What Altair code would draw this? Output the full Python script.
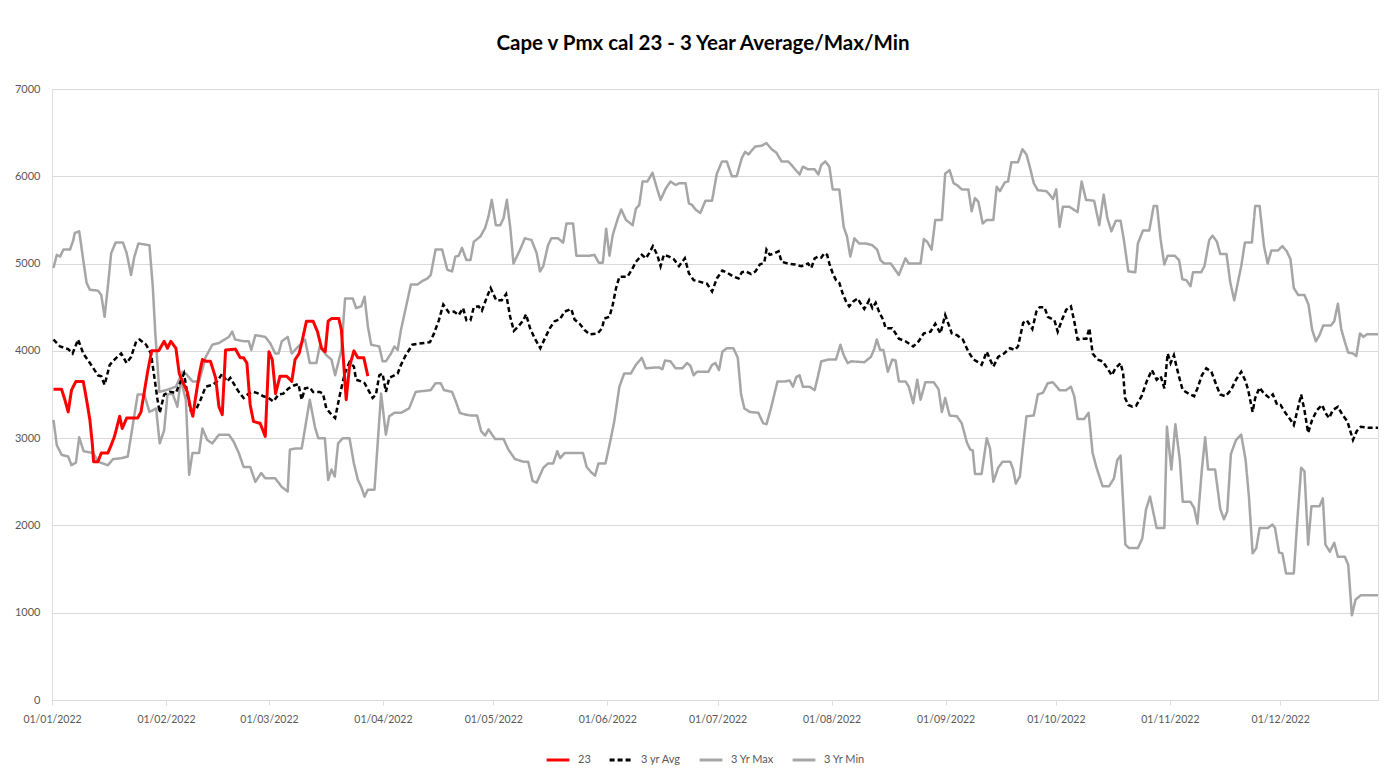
import altair as alt
import pandas as pd

TITLE = "Cape v Pmx cal 23 - 3 Year Average/Max/Min"
START = "2022-01-01"
END_DAY = 360.6
MONTH_TICKS = ["2022-01-01", "2022-02-01", "2022-03-01", "2022-04-01", "2022-05-01", "2022-06-01",
               "2022-07-01", "2022-08-01", "2022-09-01", "2022-10-01", "2022-11-01", "2022-12-01"]
SERIES = ["23", "3 yr Avg", "3 Yr Max", "3 Yr Min"]
COLORS = ["#FF0000", "#000000", "#A6A6A6", "#A6A6A6"]
DASHES = [[1, 0], [5, 3], [1, 0], [1, 0]]
Y_TICKS = [0, 1000, 2000, 3000, 4000, 5000, 6000, 7000]

# days after 1 Jan 2022, values
RED_DAY = [0.4, 2.6, 3.5, 4.4, 5.3, 6.5, 8.5, 9.4, 10.3, 11.0, 11.3, 12.5, 13.4, 15.2, 16.1, 17.0, 18.4, 19.1,
           20.3, 23.3, 24.2, 25.1, 26.0, 27.1, 29.0, 30.5, 31.4, 32.3, 33.7, 34.6, 35.5, 36.8, 37.7, 38.3,
           39.1, 40.0, 40.9, 41.8, 43.1, 44.5, 45.4, 46.3, 47.2, 49.9, 51.2, 52.1, 53.0, 53.9, 54.8, 56.6,
           58.0, 59.0, 59.9, 60.8, 62.0, 63.8, 65.2, 66.1, 67.2, 68.0, 69.2, 71.0, 72.2, 73.3, 74.3, 75.1,
           76.0, 78.0, 78.7, 80.0, 80.9, 82.1, 83.2, 84.8, 85.9]
RED_VAL = [3560, 3560, 3440, 3300, 3550, 3650, 3650, 3440, 3210, 2920, 2730, 2730, 2830, 2830, 2920, 3020, 3250, 3110,
           3230, 3230, 3300, 3530, 3760, 4000, 4000, 4110, 4030, 4110, 4030, 3740, 3650, 3530, 3340, 3250,
           3480, 3720, 3900, 3880, 3880, 3690, 3360, 3270, 4010, 4020, 3920, 3920, 3860, 3380, 3190, 3170,
           3020, 3990, 3900, 3510, 3710, 3710, 3650, 3900, 3970, 4110, 4340, 4340, 4220, 4030, 3990, 4340,
           4370, 4370, 4240, 3440, 3820, 4000, 3920, 3920, 3710]

AVG_DAY = [0.4, 2.2, 4.4, 5.6, 7.1, 8.5, 10.3, 12.5, 13.4, 14.3, 15.7, 17.0, 18.8, 20.3, 21.5, 22.9, 23.8, 25.6,
           26.9, 27.8, 28.7, 29.3, 30.5, 32.0, 33.7, 35.0, 35.9, 36.8, 37.7, 39.1, 40.4, 41.8, 43.6, 44.9,
           46.3, 47.6, 48.5, 49.9, 50.8, 52.1, 53.5, 54.8, 56.2, 57.5, 58.9, 60.2, 61.6, 62.9, 64.3, 65.6,
           67.0, 67.9, 68.8, 70.1, 71.0, 72.8, 73.7, 74.6, 76.0, 77.0, 78.2, 79.6, 80.9, 82.1, 82.7, 84.1,
           85.0, 86.3, 87.2, 88.1, 89.0, 89.9, 90.8, 91.7, 93.1, 94.0, 94.9, 96.2, 98.0, 99.4, 102.8, 103.9,
           105.2, 106.4, 107.9, 109.3, 110.6, 111.8, 112.7, 113.8, 114.7, 116.0, 116.9, 118.3, 119.3, 120.8,
           122.3, 123.5, 124.6, 125.6, 126.8, 128.2, 128.9, 130.0, 131.3, 132.8, 134.0, 135.4, 136.7, 138.1,
           139.4, 141.2, 142.1, 143.5, 144.8, 146.2, 148.4, 149.6, 150.2, 151.6, 152.5, 153.4, 154.3, 156.5,
           157.7, 158.8, 160.4, 161.5, 162.4, 163.4, 164.6, 165.5, 166.4, 167.8, 169.1, 170.5, 172.1, 173.2,
           174.5, 176.3, 178.1, 179.5, 180.8, 182.3, 183.8, 185.3, 186.7, 187.6, 188.7, 190.1, 191.3, 192.5,
           193.7, 194.3, 195.2, 196.6, 197.6, 198.4, 200.2, 202.0, 203.8, 205.6, 206.5, 207.4, 208.3, 209.2,
           210.1, 210.8, 211.4, 212.3, 213.2, 214.1, 215.0, 215.9, 216.8, 218.0, 219.1, 219.8, 220.9, 221.6,
           222.2, 223.1, 224.0, 224.9, 226.1, 226.7, 228.5, 230.3, 232.1, 234.2, 235.7, 237.1, 238.9, 240.2,
           241.6, 242.9, 244.7, 246.1, 247.7, 249.2, 250.6, 251.9, 252.8, 254.2, 255.1, 256.0, 257.3, 258.9,
           260.5, 261.8, 262.7, 264.1, 265.1, 266.6, 267.7, 268.6, 269.9, 270.8, 272.6, 273.5, 274.6, 275.8,
           277.1, 278.0, 278.9, 280.3, 281.3, 282.1, 283.0, 284.3, 285.7, 287.0, 288.2, 289.2, 290.6, 291.3,
           291.8, 292.7, 293.8, 294.8, 296.3, 297.7, 299.1, 300.4, 301.5, 302.5, 303.4, 304.2, 305.1, 305.8,
           306.7, 307.5, 309.1, 310.6, 311.5, 312.7, 313.9, 315.3, 316.8, 317.7, 319.1, 320.6, 322.0, 323.4,
           324.6, 325.3, 326.5, 327.2, 328.4, 329.6, 331.1, 332.0, 333.2, 334.1, 335.4, 336.8, 337.7, 338.7,
           339.7, 340.6, 341.6, 342.7, 344.0, 345.4, 346.3, 347.3, 348.3, 349.7, 350.9, 352.3, 353.0, 353.8,
           354.8, 355.9, 357.8, 360.6]
AVG_VAL = [4130, 4050, 4020, 3970, 4130, 3970, 3860, 3720, 3710, 3610, 3840, 3900, 3970, 3860, 3930, 4110, 4130, 4070,
           3970, 3710, 3440, 3290, 3500, 3530, 3520, 3650, 3740, 3510, 3320, 3320, 3440, 3590, 3610, 3650,
           3740, 3650, 3690, 3590, 3530, 3460, 3510, 3530, 3510, 3480, 3460, 3420, 3500, 3510, 3570, 3600,
           3620, 3440, 3570, 3580, 3530, 3530, 3510, 3340, 3270, 3230, 3480, 3740, 3870, 3820, 3670, 3650,
           3630, 3530, 3460, 3500, 3720, 3740, 3530, 3690, 3720, 3740, 3840, 3950, 4070, 4080, 4100, 4200,
           4350, 4530, 4440, 4450, 4410, 4490, 4350, 4350, 4500, 4510, 4460, 4620, 4720, 4580,
           4580, 4650, 4390, 4230, 4280, 4350, 4420, 4260, 4140, 4030, 4140, 4260, 4340, 4360,
           4450, 4480, 4360, 4310, 4240, 4190, 4200, 4260, 4370, 4390, 4530, 4720, 4850, 4850,
           4930, 5020, 5100, 5060, 5120, 5200, 5100, 4970, 5100, 5080, 5050, 4970, 5060, 4890,
           4810, 4790, 4770, 4680, 4830, 4920, 4890, 4850, 4830, 4900, 4910, 4880, 4910, 4990,
           5010, 5160, 5100, 5120, 5140, 5020, 5000, 4990, 4970, 5000, 4950, 5060, 5080, 5070,
           5120, 5100, 5000, 4890, 4810, 4780, 4660, 4570, 4510, 4570, 4600, 4550, 4480, 4530,
           4580, 4490, 4550, 4450, 4350, 4260, 4260, 4140, 4110, 4050, 4110, 4200, 4220, 4310,
           4200, 4410, 4200, 4180, 4130, 3990, 3900, 3870, 3840, 3990, 3900, 3820, 3930, 3970,
           4030, 4010, 4050, 4320, 4350, 4250, 4450, 4500, 4500, 4390, 4350, 4220, 4350, 4470,
           4510, 4340, 4130, 4140, 4140, 4260, 3970, 3900, 3880, 3800, 3720, 3800, 3860, 3740,
           3460, 3380, 3360, 3370, 3480, 3650, 3780, 3670, 3710, 3570, 3970, 3860, 3950, 3820,
           3670, 3550, 3510, 3480, 3570, 3720, 3800, 3760, 3590, 3500, 3480, 3550, 3670, 3760,
           3650, 3550, 3300, 3460, 3580, 3510, 3460, 3500, 3380, 3380, 3290, 3210, 3150, 3320,
           3500, 3320, 3060, 3210, 3320, 3380, 3290, 3230, 3320, 3360, 3270, 3190, 3090, 2980,
           3080, 3130, 3120, 3120]

MAX_DAY = [0.4, 1.3, 2.2, 3.1, 4.9, 5.8, 6.2, 7.4, 8.5, 9.4, 10.3, 12.5, 13.4, 14.3, 15.2, 16.1, 17.3, 19.3,
           20.3, 21.5, 22.4, 23.5, 26.5, 27.4, 28.1, 29.2, 31.0, 33.7, 35.5, 36.4, 38.2, 40.0, 41.8, 43.6,
           45.4, 48.1, 49.0, 49.8, 52.1, 53.5, 54.2, 55.3, 58.0, 59.3, 60.7, 61.6, 62.5, 64.1, 65.2, 67.0,
           68.8, 70.1, 71.9, 72.8, 74.6, 76.0, 77.0, 78.7, 79.7, 81.8, 82.7, 84.1, 85.0, 85.9, 86.8, 89.0,
           89.9, 90.8, 92.2, 93.1, 94.0, 94.9, 97.6, 99.4, 100.7, 102.1, 103.0, 104.3, 106.1, 107.5, 108.8,
           109.7, 110.6, 111.5, 112.7, 113.8, 114.7, 116.5, 117.8, 118.7, 119.6, 120.7, 121.9, 122.8, 123.7,
           124.6, 125.5, 127.3, 128.6, 130.4, 131.8, 132.7, 133.6, 134.9, 135.8, 137.6, 139.0, 139.9, 141.7,
           142.6, 146.2, 147.5, 148.7, 149.8, 150.7, 151.6, 152.5, 153.9, 154.8, 156.1, 157.9, 158.8, 159.7,
           160.6, 161.9, 163.3, 164.6, 165.5, 166.9, 168.2, 169.6, 170.5, 172.3, 173.2, 174.1, 175.0, 176.3,
           177.7, 179.5, 180.8, 182.2, 183.5, 184.9, 186.2, 187.6, 188.5, 189.4, 191.2, 193.0, 194.3, 195.7,
           197.0, 198.4, 200.2, 201.5, 203.3, 204.2, 205.6, 207.4, 208.4, 209.2, 210.3, 211.4, 212.3, 214.1,
           215.3, 216.2, 217.1, 218.2, 219.5, 221.3, 223.1, 224.4, 225.3, 226.3, 228.1, 230.3, 232.1, 233.0,
           236.2, 237.1, 238.0, 239.2, 240.2, 242.0, 242.9, 244.1, 245.2, 246.1, 247.4, 249.2, 250.1, 251.0,
           251.9, 253.1, 254.2, 256.0, 256.9, 257.8, 259.1, 260.0, 260.9, 262.7, 263.9, 265.0, 265.9, 267.0,
           268.1, 270.4, 271.3, 272.2, 273.1, 274.0, 274.9, 276.7, 278.9, 280.0, 281.2, 283.4, 284.8, 286.0,
           287.0, 288.1, 289.3, 290.6, 291.5, 292.7, 294.6, 295.3, 296.7, 298.4, 299.6, 300.5, 301.5, 302.5,
           303.4, 305.3, 306.5, 307.4, 308.5, 309.6, 310.3, 312.5, 313.4, 314.7, 315.6, 316.8, 317.7, 319.4,
           320.4, 321.5, 323.4, 324.4, 326.3, 327.2, 328.4, 329.6, 330.6, 331.6, 333.4, 334.6, 335.8, 336.8,
           337.7, 338.9, 340.6, 341.7, 342.7, 343.7, 344.7, 345.7, 347.8, 348.7, 349.7, 350.6, 351.6, 352.5,
           353.8, 354.7, 355.7, 356.6, 357.6, 360.6]
MAX_VAL = [4950, 5100, 5080, 5160, 5160, 5270, 5350, 5370, 5040, 4780, 4700, 4690, 4640, 4390, 4740, 5120, 5240, 5240,
           5120, 4870, 5080, 5230, 5210, 4740, 4200, 3530, 3550, 3590, 3760, 3740, 3650, 3650, 3930, 4070,
           4090, 4160, 4220, 4130, 4110, 4110, 4010, 4180, 4160, 4090, 3970, 3970, 4110, 4160, 3970, 4050,
           4130, 3860, 3860, 4050, 3950, 3900, 3720, 4010, 4600, 4600, 4490, 4510, 4620, 4280, 4070, 4050,
           3880, 3880, 3970, 4050, 4010, 4240, 4760, 4760, 4800, 4830, 4870, 5160, 5160, 4930, 4910,
           5080, 5090, 5180, 5040, 5040, 5250, 5310, 5410, 5540, 5730, 5440, 5440, 5520, 5730,
           5420, 5000, 5160, 5290, 5270, 5120, 4910, 4970, 5210, 5290, 5290, 5240, 5460, 5460,
           5090, 5090, 5100, 5010, 5010, 5400, 5090, 5330, 5520, 5620, 5500, 5440, 5630, 5670,
           5940, 5940, 6040, 5850, 5730, 5860, 5940, 5900, 5920, 5920, 5690, 5670, 5620, 5580,
           5720, 5720, 6030, 6170, 6170, 6000, 6000, 6210, 6280, 6250, 6340, 6350, 6380, 6310,
           6270, 6170, 6170, 6110, 6020, 6110, 6080, 6080, 6020, 6130, 6170, 6110, 5850, 5850,
           5420, 5310, 5080, 5290, 5230, 5230, 5210, 5160, 5040, 5000, 5000, 4870, 5060, 5000,
           5000, 5280, 5250, 5160, 5500, 5500, 6030, 6070, 5920, 5900, 5850, 5850, 5600, 5750,
           5710, 5460, 5500, 5500, 5880, 5830, 5930, 5940, 6160, 6160, 6310, 6250, 6110, 5920,
           5840, 5830, 5790, 5740, 5850, 5420, 5650, 5650, 5590, 5940, 5730, 5720, 5440, 5790,
           5520, 5370, 5490, 5490, 5270, 4910, 4900, 5230, 5380, 5380, 5660, 5660, 5270, 4990,
           5090, 5090, 5040, 4820, 4810, 4740, 4900, 4900, 4970, 5270, 5320, 5250, 5110, 5110,
           4790, 4580, 4970, 5240, 5240, 5660, 5660, 5200, 5000, 5150, 5150, 5200, 5140, 5050,
           4720, 4640, 4640, 4530, 4240, 4110, 4180, 4290, 4290, 4340, 4540, 4250, 4100, 3980,
           3970, 3940, 4200, 4160, 4190, 4190]

MIN_DAY = [0.4, 1.3, 2.6, 4.4, 5.3, 6.5, 7.4, 8.6, 11.2, 12.5, 15.2, 16.6, 18.8, 20.6, 23.3, 25.1, 26.5, 28.3,
           29.3, 30.5, 31.4, 32.8, 34.1, 35.0, 36.4, 37.3, 38.2, 40.0, 40.9, 42.2, 43.6, 45.4, 48.1, 49.4,
           50.8, 52.1, 53.9, 55.3, 56.9, 58.0, 60.7, 62.5, 64.1, 64.7, 66.1, 67.9, 70.1, 71.5, 72.4, 74.2,
           75.1, 76.0, 76.9, 77.8, 79.1, 80.9, 82.1, 83.2, 84.1, 85.0, 85.9, 87.7, 89.5, 90.8, 91.7, 93.1,
           94.9, 97.1, 98.9, 103.0, 104.3, 105.7, 106.6, 108.8, 110.0, 110.9, 112.4, 113.8, 115.6, 116.7,
           117.8, 118.7, 120.5, 122.8, 124.1, 125.9, 128.2, 129.5, 130.7, 131.8, 133.6, 134.9, 136.3, 137.4,
           138.2, 139.4, 141.2, 144.4, 145.4, 146.6, 147.7, 148.6, 150.5, 151.6, 152.9, 154.3, 155.6, 157.4,
           158.8, 160.4, 161.5, 164.2, 165.1, 166.0, 166.7, 168.2, 169.6, 171.4, 172.7, 173.6, 174.5, 175.4,
           178.5, 179.5, 180.4, 181.4, 182.3, 183.5, 185.3, 186.5, 187.4, 188.3, 189.8, 192.1, 193.4, 194.3,
           195.5, 197.3, 199.3, 200.6, 201.5, 202.4, 203.3, 204.2, 206.0, 207.4, 208.3, 209.2, 211.0, 213.2,
           214.4, 215.3, 216.4, 217.3, 220.9, 222.7, 223.6, 224.3, 225.2, 226.1, 227.3, 228.5, 229.4, 230.3,
           232.1, 233.0, 234.2, 235.3, 236.2, 237.5, 239.8, 241.1, 242.0, 242.9, 244.1, 246.1, 247.4, 248.8,
           249.7, 250.4, 251.0, 252.8, 254.2, 255.1, 256.0, 257.3, 258.5, 260.6, 261.4, 262.1, 263.2, 264.1,
           265.0, 267.0, 268.1, 269.5, 270.8, 272.2, 274.0, 275.8, 277.1, 278.0, 278.9, 280.7, 281.9, 283.0,
           284.0, 285.7, 287.5, 288.8, 289.7, 290.6, 291.9, 292.9, 295.3, 296.5, 297.5, 298.6, 300.4, 302.5,
           303.2, 304.4, 305.5, 306.7, 307.5, 309.6, 310.6, 311.5, 312.7, 313.6, 314.4, 316.3, 317.7, 318.7,
           319.6, 320.6, 322.0, 323.4, 324.6, 325.5, 326.5, 327.5, 328.4, 330.6, 331.9, 332.6, 333.7, 334.6,
           335.6, 337.7, 338.7, 339.7, 340.6, 341.6, 342.5, 344.7, 345.6, 346.3, 347.5, 348.7, 349.7, 351.6,
           352.5, 353.5, 354.5, 355.9, 360.6]
MIN_VAL = [3210, 2920, 2810, 2790, 2690, 2720, 3010, 2850, 2830, 2730, 2690, 2760, 2770, 2790, 3500, 3500, 3300, 3340,
           2940, 3090, 3500, 3510, 3360, 3670, 3440, 2580, 2830, 2830, 3110, 2980, 2940, 3040, 3040, 2960,
           2830, 2670, 2670, 2500, 2600, 2540, 2540, 2440, 2390, 2870, 2880, 2880, 3440, 3130, 3000, 3000,
           2520, 2640, 2560, 2940, 3000, 3000, 2710, 2520, 2440, 2330, 2410, 2410, 3510, 3040, 3250, 3290,
           3290, 3340, 3530, 3550, 3630, 3630, 3550, 3530, 3400, 3290, 3270, 3260, 3260, 3080,
           3030, 3100, 2990, 2990, 2870, 2760, 2730, 2730, 2510, 2490, 2660, 2710, 2710, 2850,
           2770, 2830, 2830, 2830, 2670, 2610, 2570, 2710, 2710, 2920, 3190, 3590, 3740, 3740,
           3840, 3920, 3800, 3810, 3810, 3790, 3890, 3880, 3800, 3800, 3860, 3830, 3720, 3760,
           3760, 3840, 3860, 3780, 3990, 4030, 4030, 3920, 3500, 3340, 3300, 3290, 3170, 3160,
           3340, 3650, 3650, 3660, 3590, 3700, 3720, 3590, 3590, 3550, 3710, 3880, 3900, 3900,
           4070, 3950, 3860, 3880, 3870, 3930, 4020, 4130, 4010, 4010, 3760, 3900, 3890, 3650,
           3650, 3590, 3400, 3670, 3440, 3640, 3640, 3560, 3300, 3460, 3260, 3250, 3170, 2950,
           2870, 2860, 2590, 2590, 3000, 2880, 2500, 2660, 2730, 2730, 2640, 2480, 2560, 2920,
           3250, 3260, 3500, 3520, 3630, 3640, 3550, 3550, 3590, 3480, 3220, 3220, 3290, 2830,
           2670, 2450, 2450, 2540, 2750, 2800, 1780, 1740, 1740, 1850, 2180, 2330, 1970, 1970,
           3130, 2640, 3160, 2750, 2270, 2270, 2200, 2020, 2640, 3010, 2640, 2640, 2190, 2070,
           2160, 2820, 2980, 3040, 2750, 2330, 1680, 1740, 1970, 1970, 2010, 1970, 1690, 1680,
           1450, 1450, 2080, 2660, 2620, 1780, 2220, 2220, 2310, 1780, 1700, 1800, 1640, 1640,
           1550, 970, 1150, 1200, 1200]

DAY_MS = 86400000
T0 = int(pd.Timestamp(START, tz="UTC").value // 10**6)


def ms(day):
    return T0 + int(round(day * DAY_MS))


rows = []
for name, days, vals in [("23", RED_DAY, RED_VAL), ("3 yr Avg", AVG_DAY, AVG_VAL),
                         ("3 Yr Max", MAX_DAY, MAX_VAL), ("3 Yr Min", MIN_DAY, MIN_VAL)]:
    for d, v in zip(days, vals):
        rows.append({"series": name, "t": ms(d), "value": v})
df = pd.DataFrame(rows)

tick_ms = [int(pd.Timestamp(s, tz="UTC").value // 10**6) for s in MONTH_TICKS]

FONT = "Lato"
LABEL_COLOR = "#595959"
GRID = "#D9D9D9"

x_enc = alt.X("t:T", title=None,
              scale=alt.Scale(type="utc", domain=[T0, ms(END_DAY)], nice=False),
              axis=alt.Axis(values=tick_ms, format="%d/%m/%Y", grid=False, domainColor=GRID,
                            tickColor=GRID, tickSize=5, labelPadding=9, labelColor=LABEL_COLOR,
                            labelFont=FONT, labelFontSize=10.5, labelFlush=False))
y_enc = alt.Y("value:Q", title=None,
              scale=alt.Scale(domain=[0, 7000], nice=False),
              axis=alt.Axis(values=Y_TICKS, format="d", grid=True, gridColor=GRID, domain=False,
                            ticks=False, labelPadding=12, labelColor=LABEL_COLOR, labelFont=FONT,
                            labelFontSize=11))
legend = alt.Legend(title=None, orient="none", legendX=493, legendY=658, direction="horizontal",
                    symbolType="stroke", symbolSize=520, symbolStrokeWidth=3, labelFont=FONT,
                    labelFontSize=11, labelColor=LABEL_COLOR, columnPadding=12, labelOffset=7)
color_enc = alt.Color("series:N", scale=alt.Scale(domain=SERIES, range=COLORS), legend=legend)
dash_enc = alt.StrokeDash("series:N", scale=alt.Scale(domain=SERIES, range=DASHES), legend=legend)

base = alt.Chart(df).encode(x=x_enc, y=y_enc, color=color_enc, strokeDash=dash_enc, detail="series:N")

gray = base.transform_filter(alt.FieldOneOfPredicate(field="series", oneOf=["3 Yr Max", "3 Yr Min"])) \
    .mark_line(strokeWidth=2.5, strokeJoin="round")
avg = base.transform_filter(alt.FieldEqualPredicate(field="series", equal="3 yr Avg")) \
    .mark_line(strokeWidth=2.5, strokeCap="butt")
red = base.transform_filter(alt.FieldEqualPredicate(field="series", equal="23")) \
    .mark_line(strokeWidth=3, strokeJoin="round")

chart = alt.layer(gray, avg, red).properties(
    width=1326, height=611,
    padding={"left": 44, "top": 81, "right": 4, "bottom": 72},
    autosize=alt.AutoSizeParams(type="none"),
    title=alt.TitleParams(TITLE, font=FONT, fontSize=20.5, fontWeight="bold", color="#000000",
                          anchor="middle", frame="group", offset=29, dx=-12),
).configure_view(stroke=None).configure(background="white")

chart.save("out.html", embed_options={"renderer": "svg", "actions": False})
